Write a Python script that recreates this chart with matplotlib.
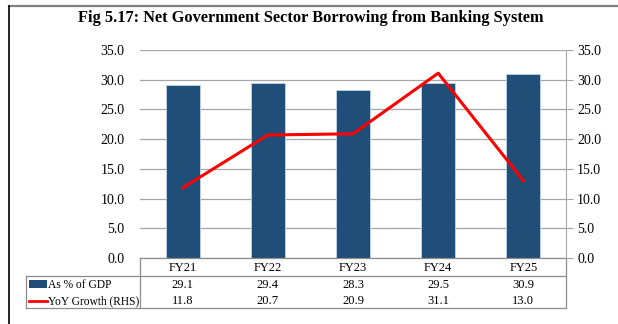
import matplotlib
matplotlib.use("Agg")
import matplotlib.pyplot as plt
from matplotlib.lines import Line2D
from matplotlib.patches import Rectangle
import matplotlib.transforms as mtrans

categories = ["FY21", "FY22", "FY23", "FY24", "FY25"]
gdp_share = [29.1, 29.4, 28.3, 29.5, 30.9]
yoy_growth = [11.8, 20.7, 20.9, 31.1, 13.0]
series_names = ["As % of GDP", "YoY Growth (RHS)"]
title = "Fig 5.17: Net Government Sector Borrowing from Banking System"
yticks = [0, 5, 10, 15, 20, 25, 30, 35]

FONT = "Liberation Serif"
BAR_C = "#1F4E79"
LINE_C = "#FF0000"
GRID_C = "#A6A6A6"
TAB_C = "#8C8C8C"

W, H = 618, 324
fig = plt.figure(figsize=(W / 100, H / 100), dpi=100)

# plot area in pixels
L, R, T, B = 140, 566, 50, 258
ax = fig.add_axes([L / W, 1 - B / H, (R - L) / W, (B - T) / H])
ax2 = ax.twinx()

x = list(range(len(categories)))
ax.bar(x, gdp_share, width=0.4, color=BAR_C, edgecolor="#BDD7EE", linewidth=0.6, zorder=2)
ax2.plot(x, yoy_growth, color=LINE_C, linewidth=2.2, zorder=3)

for a in (ax, ax2):
    a.set_ylim(0, 35)
    a.set_xlim(-0.5, len(categories) - 0.5)
    a.set_yticks(yticks)
    a.set_yticklabels([f"{v:.1f}" for v in yticks], fontfamily=FONT, fontsize=10)
    for s in a.spines.values():
        s.set_visible(False)
ax.set_xticks([])
ax.grid(axis="y", color=GRID_C, linewidth=0.9, zorder=0)
ax.set_axisbelow(True)
ax.tick_params(axis="y", length=0, pad=11)
ax2.spines["right"].set_visible(True)
ax2.spines["right"].set_color(GRID_C)
ax2.tick_params(axis="y", length=5, color=GRID_C, pad=3)

fig.text(311 / W, 1 - 18 / H, title, fontfamily=FONT, fontweight="bold",
         fontsize=11.8, ha="center", va="center")

# data table drawn below the axis
def py(p):  # pixel y -> axes y
    return (B - p) / (B - T)

def px(p):  # pixel x -> axes x
    return (p - L) / (R - L)

tr = ax.transAxes
blend = mtrans.blended_transform_factory(ax.transData, ax.transAxes)
lk = dict(color=TAB_C, linewidth=0.9, transform=tr, clip_on=False)
ax.add_line(Line2D([0, 1], [0, 0], **lk))
ax.add_line(Line2D([px(26), 1], [py(276), py(276)], **lk))
ax.add_line(Line2D([px(26), 1], [py(308), py(308)], **lk))
ax.add_line(Line2D([px(26), px(26)], [py(276), py(308)], **lk))
ax.add_line(Line2D([0, 0], [0, py(308)], **lk))
ax.add_line(Line2D([1, 1], [0, py(308)], **lk))

tk = dict(fontfamily=FONT, fontsize=9, ha="center", va="center", clip_on=False)
for i, c in enumerate(categories):
    ax.text(i, py(268), c, transform=blend, **tk)
    ax.text(i, py(285.5), f"{gdp_share[i]:.1f}", transform=blend, **tk)
    ax.text(i, py(301), f"{yoy_growth[i]:.1f}", transform=blend, **tk)

ax.add_patch(Rectangle((px(29), py(288)), px(47) - px(29), py(280) - py(288),
                       facecolor=BAR_C, transform=tr, clip_on=False))
ax.add_line(Line2D([px(29), px(47)], [py(300.5), py(300.5)], color=LINE_C,
                   linewidth=2, transform=tr, clip_on=False))
lt = dict(fontfamily=FONT, fontsize=8.3, ha="left", va="center", clip_on=False, transform=tr)
ax.text(px(47.5), py(285.5), series_names[0], **lt)
ax.text(px(47.5), py(301), series_names[1], **lt)

# outer frame
fig.add_artist(Line2D([9 / W, 1], [1 - 5.5 / H, 1 - 5.5 / H], color="#808080", linewidth=1.6))
fig.add_artist(Line2D([9 / W, 9 / W], [0, 1 - 5.5 / H], color="#000000", linewidth=1.2))

fig.savefig("out.png", dpi=100)
